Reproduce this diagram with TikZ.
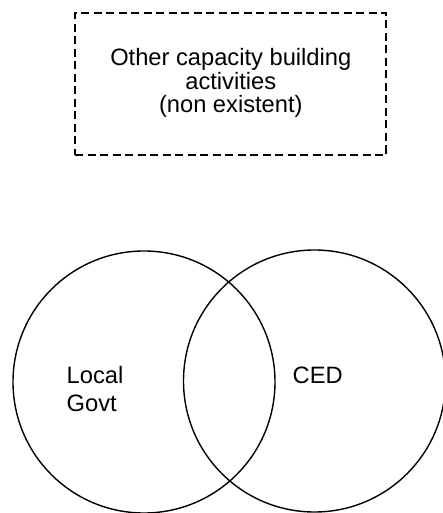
\documentclass[tikz,border=0pt]{standalone}
\usepackage{fontspec}
\setmainfont{Liberation Sans}
\begin{document}
\begin{tikzpicture}[x=1pt,y=-1pt,
  dashbox/.style={draw, dash pattern=on 8pt off 4.5pt, line width=1.5pt, minimum width=311pt, minimum height=142pt, inner sep=0pt},
  setcircle/.style={draw, circle, line width=1.4pt, minimum size=262pt, inner sep=0pt},
  boxtext/.style={align=center, inner sep=0pt, anchor=base, font=\fontsize{23.7}{23.7}\selectfont},
  lbl/.style={align=left, inner sep=0pt, anchor=base west, font=\fontsize{23.7}{28.5}\selectfont}]
\useasboundingbox (0,0) rectangle (443,513);
\node[dashbox] (box) at (230.5,84) {};
\node[boxtext] (boxlabel) at (230.8,113) {Other capacity building\\activities\\(non existent)};
\node[setcircle] (lg) at (144,382) {};
\node[setcircle] (ced) at (314.5,381) {};
\node[lbl] (lglabel) at (66.5,411.5) {Local\\Govt};
\node[lbl] (cedlabel) at (292.5,383) {CED};
\end{tikzpicture}
\end{document}
